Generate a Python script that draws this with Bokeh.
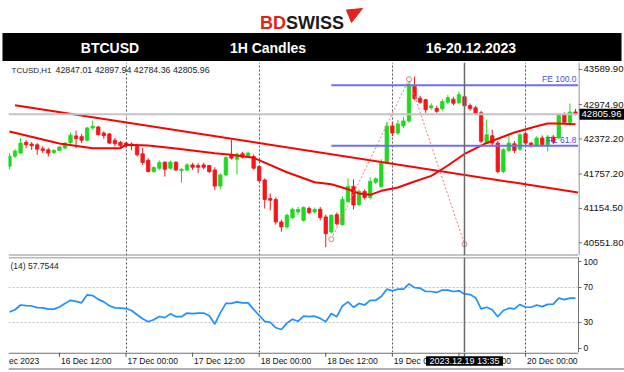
from bokeh.plotting import figure
from bokeh.models import (Range1d, LinearAxis, FixedTicker, PrintfTickFormatter,
                          Span, ColumnDataSource)
from bokeh.layouts import column, row
from bokeh.embed import file_html
from bokeh.resources import INLINE
from bokeh.core.properties import value

# ---------------- data ----------------
# hourly bars; hour offset relative to 17 Dec 2023 00:00
bar_hour = list(range(-21, 82))
bar_open = [41894, 42071, 42124, 42313, 42283, 42270, 42200, 42182, 42135, 42172,
            42212, 42307, 42426, 42413, 42349, 42566, 42583, 42477, 42460, 42349,
            42313, 42300, 42283, 42242, 42112, 41997, 41801, 41859, 41965, 41859,
            41965, 41818, 41829, 41917, 41906, 41917, 41906, 41829, 41546, 41741,
            42094, 42018, 42112, 42065, 42065, 41889, 41652, 41329, 41311, 40917,
            40829, 40993, 41093, 40946, 41152, 41093, 41140, 41006, 40741, 41046,
            40870, 41276, 41541, 41223, 41453, 41347, 41612, 41541, 41947, 42601,
            42477, 42601, 42689, 43290, 43087, 43060, 42919, 42906, 42901, 43016,
            43069, 43007, 43113, 42959, 42919, 42830, 42300, 42429, 42300, 41801,
            42172, 42288, 42194, 42465, 42300, 42253, 42389, 42270, 42406, 42389,
            42801, 42666, 42847.01]
bar_high = [42124, 42195, 42389, 42353, 42318, 42300, 42247, 42212, 42194, 42247,
            42318, 42483, 42518, 42458, 42583, 42694, 42601, 42507, 42477, 42389,
            42336, 42318, 42313, 42288, 42212, 42037, 41894, 41995, 41982, 41995,
            41982, 41859, 41947, 41953, 41947, 41958, 41917, 41876, 41771, 42071,
            42359, 42135, 42147, 42153, 42100, 41912, 41682, 41417, 41347, 40958,
            41064, 41170, 41182, 41188, 41188, 41170, 41182, 41046, 41052, 41082,
            41364, 41682, 41665, 41488, 41488, 41700, 41700, 42018, 42671, 42671,
            42707, 42760, 43431, 43466, 43130, 43078, 42998, 42954, 43078, 43140,
            43113, 43201, 43148, 42995, 42954, 42866, 42712, 42536, 42336, 42212,
            42429, 42336, 42468, 42495, 42323, 42418, 42433, 42442, 42442, 42830,
            42839, 42994, 42897.94]
bar_low = [41841, 42036, 42106, 42212, 42180, 42094, 42124, 42065, 42106, 42159,
           42194, 42270, 42212, 42300, 42330, 42534, 42433, 42376, 42283, 42240,
           42230, 42212, 42172, 42065, 41917, 41783, 41783, 41824, 41712, 41836,
           41806, 41606, 41806, 41829, 41771, 41836, 41771, 41475, 41488, 41718,
           42013, 41753, 42030, 42039, 41836, 41624, 41152, 41122, 40870, 40746,
           40799, 40970, 41041, 40923, 41052, 41064, 40945, 40476, 40715, 40852,
           40852, 41258, 41135, 41188, 41311, 41311, 41585, 41523, 41929, 42424,
           42442, 42565, 42654, 43051, 42989, 42830, 42884, 42830, 42866, 42989,
           42963, 42980, 42919, 42866, 42795, 42300, 42283, 42242, 41771, 41771,
           42141, 42124, 42159, 42265, 42224, 42230, 42242, 42153, 42283, 42371,
           42636, 42605, 42784.36]
bar_close = [42071, 42159, 42300, 42270, 42253, 42194, 42172, 42124, 42172, 42230,
             42300, 42438, 42378, 42350, 42566, 42596, 42447, 42430, 42300, 42289,
             42253, 42253, 42253, 42094, 41960, 41801, 41871, 41960, 41841, 41965,
             41829, 41841, 41917, 41876, 41876, 41876, 41801, 41546, 41741, 42048,
             42036, 42106, 42053, 42124, 41859, 41641, 41311, 41299, 40917, 40829,
             41034, 41139, 41135, 41170, 41082, 41135, 40993, 40711, 41034, 40887,
             41311, 41541, 41214, 41453, 41347, 41629, 41673, 41947, 42601, 42477,
             42636, 42689, 43325, 43078, 43016, 42884, 42954, 42857, 43030, 43096,
             42998, 43148, 42954, 42906, 42818, 42331, 42447, 42300, 41801, 42182,
             42300, 42172, 42447, 42300, 42253, 42389, 42270, 42406, 42318, 42801,
             42666, 42843, 42805.96]
rsi14 = [41.8, 44.3, 49.8, 49.0, 48.7, 46.8, 46.5, 45.0, 45.0, 47.5,
         51.5, 55.2, 54.0, 52.3, 61.5, 60.7, 56.3, 53.4, 49.0, 46.5,
         46.1, 45.7, 43.5, 38.6, 33.9, 30.4, 32.8, 36.5, 35.2, 39.6,
         36.3, 36.3, 40.5, 39.9, 40.5, 40.5, 37.5, 27.8, 40.7, 51.6,
         51.6, 53.4, 52.3, 52.3, 44.8, 37.7, 31.0, 29.7, 23.5, 21.6,
         28.9, 33.3, 31.0, 36.9, 36.3, 36.9, 34.4, 30.4, 39.9, 36.3,
         48.7, 53.4, 47.2, 51.6, 49.8, 55.2, 55.2, 59.6, 68.1, 66.2,
         68.1, 68.1, 74.2, 69.8, 69.2, 65.4, 65.4, 64.3, 67.0, 67.0,
         65.4, 66.2, 62.6, 61.8, 58.2, 45.4, 47.2, 44.3, 36.3, 43.5,
         46.1, 45.4, 50.5, 47.2, 47.2, 49.8, 47.9, 50.5, 50.8, 57.8,
         56.0, 57.8, 57.75]
ma_hour = [-21, -12, -6, -1, 0, 4, 9, 16, 19, 23, 29, 34, 37, 40, 42, 44, 46,
           49, 52, 55, 56, 58, 61, 65, 70, 74, 76, 78, 81]
ma_value = [42503, 42292, 42210, 42210, 42270, 42258, 42205, 42123, 42095, 42042,
            41789, 41614, 41579, 41491, 41416, 41393, 41463, 41521, 41627, 41726,
            41784, 41907, 42109, 42302, 42486, 42596, 42643, 42643, 42631]
trend_hour = [-20, 81.5]
trend_value = [42964, 41434]
fe_hour = [37, 51, 61]
fe_value = [40615, 43420, 40527]
fe_level = [43315, 42252]
fe_text = ["FE 100.0", "FE 61.8"]
last_price = 42805.96
symbol_caption = "TCUSD,H1"            # left part of "BTCUSD,H1" is hidden by the chart edge
ohlc_caption = "42847.01 42897.94 42784.36 42805.96"
rsi_caption = "(14) 57.7544"           # "RSI" is hidden by the chart edge
price_ticks = [43589.90, 42974.90, 42372.20, 41757.20, 41154.50, 40551.80]
rsi_ticks = [0, 30, 70, 100]
rsi_levels = [30, 70]
day_hours = [0, 24, 48, 72]
time_tick_hours = [-12, 0, 12, 24, 36, 48, 60, 72]
time_tick_labels = ["16 Dec 12:00", "17 Dec 00:00", "17 Dec 12:00", "18 Dec 00:00",
                    "18 Dec 12:00", "19 Dec 00:00", "19 Dec 12:00", "20 Dec 00:00"]
first_date_visible = "ec 2023"         # "16 Dec 2023", cut by the chart edge
cursor_hour = 61
cursor_label = "2023.12.19 13:35"
header_cells = ["BTCUSD", "1H Candles", "16-20.12.2023"]

# ---------------- view settings ----------------
BAR_PX = 5.549
T_LEFT = -21.175
T_RIGHT = 81.546
T_RIGHT_STRIP = T_RIGHT + 46 / BAR_PX
P_TOP, P_BOTTOM = 43712.6, 40329.3
R_BOTTOM, R_TOP = -5.0, 104.6
MT_FONT = "Liberation Sans"
GREEN, RED = "#1fd81f", "#f2161b"
AXIS_GRAY = "#707070"


def base_fig(width, height, x_range, y_range, **kw):
    f = figure(width=width, height=height, x_range=x_range, y_range=y_range,
               toolbar_location=None, output_backend="svg",
               x_axis_location=None, y_axis_location=None, **kw)
    f.frame_align = False
    f.outline_line_color = None
    f.background_fill_color = "white"
    f.border_fill_color = "white"
    return f


# ---------------- header ----------------
h = base_fig(624, 61, Range1d(0, 624), Range1d(61, 0), min_border=0)
h.grid.visible = False
h.quad(left=2, right=621, top=32.5, bottom=61, fill_color="black", line_color=None)
h.text(x=[109.5, 267.5, 470.5], y=47, text=header_cells, text_align="center",
       text_baseline="middle", text_color="white", text_font=value(MT_FONT),
       text_font_style="bold", text_font_size="14px")
h.text(x=259.5, y=22, text=["BD"], text_baseline="alphabetic", text_color="#e2231a",
       text_font=value(MT_FONT), text_font_style="bold", text_font_size="18px")
h.text(x=285.5, y=22, text=["SWISS"], text_baseline="alphabetic", text_color="#1b1b1b",
       text_font=value(MT_FONT), text_font_style="bold", text_font_size="18px")
h.patch(x=[346, 362, 351], y=[9.5, 8, 22], color="#e2231a")

# ---------------- price panel ----------------
x_shared = Range1d(T_LEFT, T_RIGHT)
y_price = Range1d(P_BOTTOM, P_TOP)
p = base_fig(578, 195, x_shared, y_price,
             min_border_left=8, min_border_right=0, min_border_top=1, min_border_bottom=1)
p.ygrid.visible = False
p.xgrid.ticker = FixedTicker(ticks=day_hours)
p.xgrid.grid_line_color = "#555555"
p.xgrid.grid_line_dash = "2 2"
p.xgrid.grid_line_width = 1

p.add_layout(Span(location=last_price, dimension="width", line_color="#c4c4c4", line_width=2))
p.add_layout(Span(location=P_BOTTOM, dimension="width", line_color="#8a8a8a", line_width=2))

colors = [GREEN if c >= o else RED for o, c in zip(bar_open, bar_close)]
src = ColumnDataSource(dict(t=bar_hour, h=bar_high, l=bar_low,
                            top=[max(o, c) for o, c in zip(bar_open, bar_close)],
                            bottom=[min(o, c) for o, c in zip(bar_open, bar_close)],
                            color=colors))
p.segment(x0="t", y0="l", x1="t", y1="h", line_color="color", line_width=1, source=src)
p.vbar(x="t", width=0.62, top="top", bottom="bottom", fill_color="color",
       line_color="color", line_width=0.8, source=src)

p.line(ma_hour, ma_value, line_color="#ff0000", line_width=2)
p.line(trend_hour, trend_value, line_color="#ff0000", line_width=2)

for lvl in fe_level:
    p.segment(x0=fe_hour[0], y0=lvl, x1=T_RIGHT, y1=lvl, line_color="#6f6ff0", line_width=2)
p.text(x=T_RIGHT, y=fe_level, text=fe_text, text_align="right", text_baseline="bottom",
       x_offset=-2, y_offset=-1, text_color="#4a4af0", text_font=value(MT_FONT),
       text_font_size="8.5px")

p.line(fe_hour, fe_value, line_color="#f07878", line_dash="2 2", line_width=1)
p.scatter(fe_hour, fe_value, marker="circle", size=5, fill_color="white",
          line_color="#f07878", line_width=1)

p.add_layout(Span(location=cursor_hour, dimension="height", line_color="#6a6a6a", line_width=1.5))

p.text(x=T_LEFT, y=P_TOP, text=[symbol_caption], x_offset=3, y_offset=7.5,
       text_baseline="middle", text_color="#222222", text_font=value(MT_FONT),
       text_font_size="8px")
p.text(x=T_LEFT, y=P_TOP, text=[ohlc_caption], x_offset=47, y_offset=7.5,
       text_baseline="middle", text_color="#222222", text_font=value(MT_FONT),
       text_font_size="8.8px")

# price scale (right of the price panel), sharing the price range
pa = base_fig(46, 195, Range1d(0, 46), y_price,
              min_border_left=0, min_border_right=0, min_border_top=1, min_border_bottom=1)
pa.grid.visible = False
pa.segment(x0=0.5, y0=P_BOTTOM, x1=0.5, y1=P_TOP, line_color=AXIS_GRAY, line_width=1)
pa.segment(x0=0, y0=price_ticks, x1=3.5, y1=price_ticks, line_color=AXIS_GRAY, line_width=1)
pa.text(x=5, y=price_ticks, text=[f"{v:.2f}" for v in price_ticks], text_align="left",
        text_baseline="middle", text_color="#111111", text_font=value(MT_FONT),
        text_font_size="9.6px")
pa.rect(x=23.5, y=last_price, width=45, height=11, height_units="screen",
        fill_color="black", line_color=None)
pa.text(x=3, y=last_price, text=[f"{last_price:.2f}"], text_align="left",
        text_baseline="middle", text_color="white", text_font=value(MT_FONT),
        text_font_size="9.6px")

# ---------------- RSI panel ----------------
r = base_fig(624, 96, x_shared, Range1d(R_BOTTOM, R_TOP),
             min_border_left=8, min_border_right=46, min_border_top=1, min_border_bottom=0)
r.xgrid.ticker = FixedTicker(ticks=day_hours)
r.xgrid.grid_line_color = "#555555"
r.xgrid.grid_line_dash = "2 2"
r.ygrid.ticker = FixedTicker(ticks=rsi_levels)
r.ygrid.grid_line_color = "#c0c0c0"
r.ygrid.grid_line_dash = "2 2"

rax = LinearAxis(ticker=FixedTicker(ticks=rsi_ticks), formatter=PrintfTickFormatter(format="%d"),
                 major_label_text_font=MT_FONT, major_label_text_font_size="8.5px",
                 major_label_text_color="#111111",
                 major_tick_out=3, major_tick_in=0, minor_tick_out=0, minor_tick_in=0,
                 major_label_standoff=2, axis_line_color=AXIS_GRAY,
                 major_tick_line_color=AXIS_GRAY)
r.add_layout(rax, "right")
r.add_layout(Span(location=R_TOP, dimension="width", line_color=AXIS_GRAY, line_width=1.5))

r.line(bar_hour, rsi14, line_color="#1e90ff", line_width=1.7)
r.add_layout(Span(location=cursor_hour, dimension="height", line_color="#6a6a6a", line_width=1.5))
r.text(x=T_LEFT, y=R_TOP, text=[rsi_caption], x_offset=2, y_offset=8,
       text_baseline="middle", text_color="#222222", text_font=value(MT_FONT),
       text_font_size="8.5px")

# ---------------- time axis strip ----------------
s = base_fig(624, 20, Range1d(T_LEFT, T_RIGHT_STRIP), Range1d(20, 0),
             min_border_left=8, min_border_right=0, min_border_top=0, min_border_bottom=0)
s.grid.visible = False
s.segment(x0=T_LEFT, y0=0.6, x1=T_RIGHT, y1=0.6, line_color=AXIS_GRAY, line_width=1.2)
s.segment(x0=time_tick_hours, y0=0, x1=time_tick_hours, y1=4.2,
          line_color="#555555", line_width=1)
s.segment(x0=cursor_hour, y0=0, x1=cursor_hour, y1=4, line_color="#6a6a6a", line_width=1.5)
s.text(x=time_tick_hours, y=8.3, text=time_tick_labels, x_offset=1.5,
       text_align="left", text_baseline="middle", text_color="#111111",
       text_font=value(MT_FONT), text_font_size="8.5px")
s.text(x=T_LEFT, y=8.3, text=[first_date_visible], x_offset=0.5,
       text_align="left", text_baseline="middle", text_color="#111111",
       text_font=value(MT_FONT), text_font_size="8.5px")
s.rect(x=cursor_hour, y=8.5, width=77 / BAR_PX, height=9.5, fill_color="black", line_color=None)
s.text(x=cursor_hour, y=8.5, text=[cursor_label], text_align="center", text_baseline="middle",
       text_color="white", text_font=value(MT_FONT), text_font_size="9px")
s.segment(x0=T_LEFT, y0=16.5, x1=T_RIGHT_STRIP, y1=16.5, line_color="#606060", line_width=1)

layout = column(h, row(p, pa), r, s)
open("out.html", "w").write(file_html(layout, INLINE))
